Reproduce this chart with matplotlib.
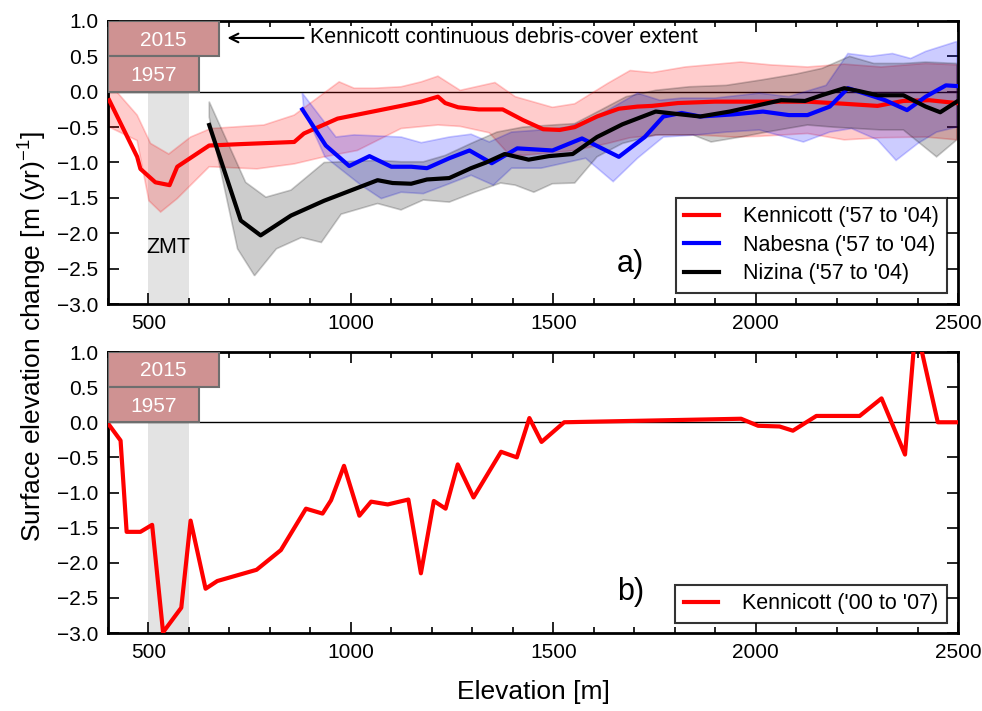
import numpy as np
import matplotlib
matplotlib.use("Agg")
import matplotlib.pyplot as plt
from matplotlib.ticker import MultipleLocator, FuncFormatter

plt.rcParams['font.family'] = ['Liberation Sans', 'DejaVu Sans']
plt.rcParams['mathtext.fontset'] = 'custom'
plt.rcParams['mathtext.rm'] = 'Liberation Sans'
plt.rcParams['mathtext.it'] = 'Liberation Sans:italic'
plt.rcParams['mathtext.bf'] = 'Liberation Sans:bold'

# --- panel a) Kennicott '57 to '04
ken_x = [403, 472, 480, 517, 552, 571, 650, 728, 860, 884, 967, 1124, 1174, 1215, 1233,
         1265, 1316, 1375, 1425, 1475, 1516, 1553, 1608, 1662, 1708, 1744, 1808, 1899,
         2036, 2128, 2219, 2301, 2365, 2429, 2497]
ken_y = [-0.12, -0.92, -1.09, -1.28, -1.32, -1.06, -0.76, -0.74, -0.71, -0.59, -0.38, -0.20,
         -0.14, -0.07, -0.16, -0.22, -0.25, -0.25, -0.40, -0.53, -0.54, -0.50, -0.35, -0.24,
         -0.21, -0.20, -0.16, -0.14, -0.14, -0.14, -0.17, -0.20, -0.13, -0.12, -0.16]
ken_up_x = [403, 472, 505, 550, 604, 654, 785, 860, 971, 1008, 1058, 1124, 1174, 1215, 1270,
            1356, 1406, 1498, 1553, 1635, 1690, 1744, 1826, 1963, 2036, 2128, 2219, 2310,
            2420, 2497]
ken_up_y = [0.12, -0.33, -0.73, -0.88, -0.64, -0.52, -0.47, -0.33, 0.14, 0.05, 0.05, 0.07,
            0.14, 0.22, 0.02, 0.13, -0.07, -0.22, -0.17, 0.12, 0.30, 0.27, 0.35, 0.42, 0.38,
            0.35, 0.39, 0.35, 0.40, 0.38]
ken_lo_x = [403, 472, 501, 530, 571, 650, 768, 860, 934, 1016, 1124, 1215, 1270, 1342, 1388,
            1425, 1498, 1553, 1635, 1690, 1763, 1854, 1945, 2009, 2128, 2219, 2310, 2420, 2497]
ken_lo_y = [-0.50, -0.69, -1.54, -1.70, -1.51, -1.06, -1.09, -1.02, -0.92, -0.83, -0.52,
            -0.47, -0.49, -0.58, -0.87, -0.90, -0.86, -0.83, -0.73, -0.65, -0.61, -0.61,
            -0.64, -0.63, -0.59, -0.68, -0.65, -0.64, -0.68]

# --- Nabesna '57 to '04
nab_x = [880, 938, 996, 1046, 1100, 1149, 1188, 1243, 1293, 1348, 1411, 1498, 1571, 1662,
         1726, 1772, 1817, 1863, 1945, 2018, 2082, 2128, 2183, 2228, 2283, 2320, 2374, 2420,
         2470, 2497]
nab_y = [-0.25, -0.76, -1.05, -0.91, -1.06, -1.06, -1.08, -0.94, -0.83, -1.01, -0.80, -0.83,
         -0.66, -0.92, -0.64, -0.35, -0.30, -0.35, -0.32, -0.28, -0.33, -0.33, -0.21, 0.05,
         -0.05, -0.12, -0.26, -0.07, 0.09, 0.08]
nab_up_x = [880, 963, 1008, 1124, 1174, 1243, 1297, 1342, 1397, 1470, 1534, 1589, 1635, 1708,
            1763, 1817, 1899, 2009, 2082, 2174, 2228, 2283, 2338, 2383, 2420, 2497]
nab_up_y = [-0.02, -0.64, -0.61, -0.64, -0.72, -0.64, -0.60, -0.71, -0.57, -0.54, -0.50,
            -0.40, -0.26, -0.02, -0.12, -0.09, -0.09, -0.02, -0.07, 0.09, 0.54, 0.50, 0.54,
            0.47, 0.57, 0.71]
nab_lo_x = [884, 936, 1025, 1075, 1124, 1179, 1243, 1297, 1352, 1397, 1470, 1525, 1580, 1648,
            1708, 1772, 1854, 1927, 2009, 2118, 2183, 2237, 2301, 2347, 2401, 2447, 2497]
nab_lo_y = [-0.26, -0.92, -1.32, -1.51, -1.42, -1.44, -1.30, -1.18, -1.32, -1.08, -1.08,
            -1.01, -0.94, -1.27, -0.94, -0.64, -0.61, -0.57, -0.54, -0.71, -0.57, -0.52,
            -0.68, -0.97, -0.73, -0.57, -0.50]

# --- Nizina '57 to '04
niz_x = [650, 728, 777, 852, 934, 1066, 1103, 1149, 1188, 1243, 1297, 1334, 1380, 1439, 1489,
         1548, 1608, 1671, 1753, 1799, 1863, 1936, 1999, 2063, 2122, 2163, 2219, 2255, 2301,
         2365, 2420, 2456, 2497]
niz_y = [-0.47, -1.82, -2.03, -1.75, -1.54, -1.25, -1.29, -1.30, -1.24, -1.22, -1.08, -1.00,
         -0.88, -0.96, -0.91, -0.88, -0.64, -0.46, -0.28, -0.31, -0.35, -0.28, -0.20, -0.12,
         -0.13, -0.05, 0.05, 0.01, -0.05, -0.05, -0.21, -0.29, -0.14]
niz_up_x = [650, 740, 790, 852, 934, 1066, 1124, 1179, 1233, 1297, 1361, 1425, 1498, 1553,
            1617, 1680, 1753, 1836, 1927, 2018, 2100, 2164, 2232, 2292, 2365, 2420, 2497]
niz_up_y = [-0.14, -1.28, -1.49, -1.39, -1.00, -0.97, -0.99, -0.99, -0.90, -0.73, -0.57,
            -0.50, -0.47, -0.45, -0.26, -0.07, 0.02, 0.07, 0.09, 0.17, 0.25, 0.33, 0.50,
            0.40, 0.40, 0.42, 0.40]
niz_lo_x = [650, 720, 762, 816, 878, 927, 976, 1066, 1124, 1179, 1243, 1306, 1370, 1406, 1452,
            1498, 1553, 1608, 1671, 1753, 1845, 1890, 1963, 2027, 2128, 2191, 2310, 2365, 2447,
            2497]
niz_lo_y = [-0.36, -2.22, -2.60, -2.22, -2.06, -2.13, -1.73, -1.58, -1.67, -1.53, -1.56,
            -1.42, -1.29, -1.32, -1.42, -1.30, -1.29, -0.92, -0.73, -0.61, -0.61, -0.71,
            -0.64, -0.57, -0.47, -0.50, -0.54, -0.54, -0.92, -0.68]

# --- panel b) Kennicott '00 to '07
kb_x = [403, 431, 446, 480, 509, 536, 581, 604, 641, 670, 767, 827, 889, 930, 951, 983, 1021,
        1050, 1091, 1142, 1173, 1205, 1234, 1264, 1303, 1371, 1410, 1441, 1471, 1527, 1964,
        2006, 2059, 2092, 2150, 2257, 2311, 2369, 2392, 2405, 2450, 2500]
kb_y = [-0.04, -0.26, -1.56, -1.56, -1.46, -2.99, -2.64, -1.40, -2.37, -2.26, -2.10, -1.82,
        -1.23, -1.30, -1.11, -0.62, -1.33, -1.13, -1.17, -1.10, -2.15, -1.12, -1.23, -0.60,
        -1.07, -0.42, -0.50, 0.06, -0.28, 0.0, 0.05, -0.05, -0.06, -0.12, 0.09, 0.09, 0.34,
        -0.46, 1.15, 1.15, 0.0, 0.0]

# debris-cover extent boxes (end elevation)
box_years = ['2015', '1957']
box_end = [673, 624]
box_bottom = [0.5, 0.0]

fig = plt.figure(figsize=(9.82, 7.11), dpi=100)
ax1 = fig.add_axes([0.110, 0.5724, 0.8656, 0.3981])
ax2 = fig.add_axes([0.110, 0.1097, 0.8656, 0.3952])

yfmt = FuncFormatter(lambda v, pos: f'{v:.1f}'.replace('-', '\u2212'))


def style_axes(ax):
    ax.set_xlim(400, 2500)
    ax.set_ylim(-3.0, 1.0)
    ax.xaxis.set_major_locator(MultipleLocator(500))
    ax.xaxis.set_minor_locator(MultipleLocator(100))
    ax.yaxis.set_major_locator(MultipleLocator(0.5))
    ax.yaxis.set_major_formatter(yfmt)
    ax.tick_params(which='both', direction='in', top=True, right=True, labelsize=15,
                   width=1.2, pad=7)
    ax.tick_params(which='major', length=8)
    ax.tick_params(which='minor', length=4)
    for s in ax.spines.values():
        s.set_linewidth(2)
    ax.axvspan(500, 600, color='#e3e3e3', zorder=0, lw=0)
    ax.axhline(0, color='black', lw=1, zorder=1)
    for yr, end, bot in zip(box_years, box_end, box_bottom):
        ax.barh(bot + 0.25, end - 400, height=0.5, left=400, color='#cf9292',
                edgecolor='#6e6e6e', lw=1.5, zorder=5)
        ax.text((400 + end) / 2, bot + 0.23, yr, color='white', fontsize=15,
                ha='center', va='center', zorder=6)


def style_legend(leg):
    leg.get_frame().set_edgecolor('black')
    leg.get_frame().set_linewidth(1.5)


style_axes(ax1)
style_axes(ax2)

bands = [(ken_up_x, ken_up_y, ken_lo_x, ken_lo_y, 'red'),
         (nab_up_x, nab_up_y, nab_lo_x, nab_lo_y, 'blue'),
         (niz_up_x, niz_up_y, niz_lo_x, niz_lo_y, 'black')]
for ux, uy, lx, ly, c in bands:
    ax1.fill(np.concatenate([ux, lx[::-1]]), np.concatenate([uy, ly[::-1]]),
             color=c, alpha=0.2, lw=1.2, zorder=2)

ax1.plot(ken_x, ken_y, color='red', lw=3, label="Kennicott ('57 to '04)", zorder=3)
ax1.plot(nab_x, nab_y, color='blue', lw=3, label="Nabesna ('57 to '04)", zorder=3)
ax1.plot(niz_x, niz_y, color='black', lw=3, label="Nizina ('57 to '04)", zorder=3)

ax1.text(550, -2.2, 'ZMT', fontsize=15.5, ha='center', va='center')
ax1.annotate('Kennicott continuous debris-cover extent', xy=(695, 0.76), xytext=(900, 0.76),
             fontsize=15.5, va='center', ha='left',
             bbox=dict(facecolor='white', edgecolor='none', pad=1),
             arrowprops=dict(arrowstyle='->', color='black', lw=1.5, shrinkA=4, shrinkB=0))
ax1.text(1690, -2.43, 'a)', fontsize=22, ha='center', va='center')
leg1 = ax1.legend(loc='lower right', fontsize=15.5, frameon=True, fancybox=False,
                  handlelength=1.6, handletextpad=1.1, borderpad=0.4, labelspacing=0.35,
                  borderaxespad=0, bbox_to_anchor=(0.987, 0.039))
style_legend(leg1)

ax2.plot(kb_x, kb_y, color='red', lw=3, label="Kennicott ('00 to '07)", zorder=3)
ax2.text(1690, -2.42, 'b)', fontsize=22, ha='center', va='center')
leg2 = ax2.legend(loc='lower right', fontsize=15.5, frameon=True, fancybox=False,
                  handlelength=1.6, handletextpad=1.1, borderpad=0.4,
                  borderaxespad=0, bbox_to_anchor=(0.987, 0.036))
style_legend(leg2)

fig.text(0.543, 0.027, 'Elevation [m]', fontsize=19, ha='center', va='center')
fig.text(0.033, 0.527, 'Surface elevation change [m (yr)$^{-1}$]', fontsize=19,
         rotation=90, ha='center', va='center')

fig.savefig('out.png', dpi=100)
